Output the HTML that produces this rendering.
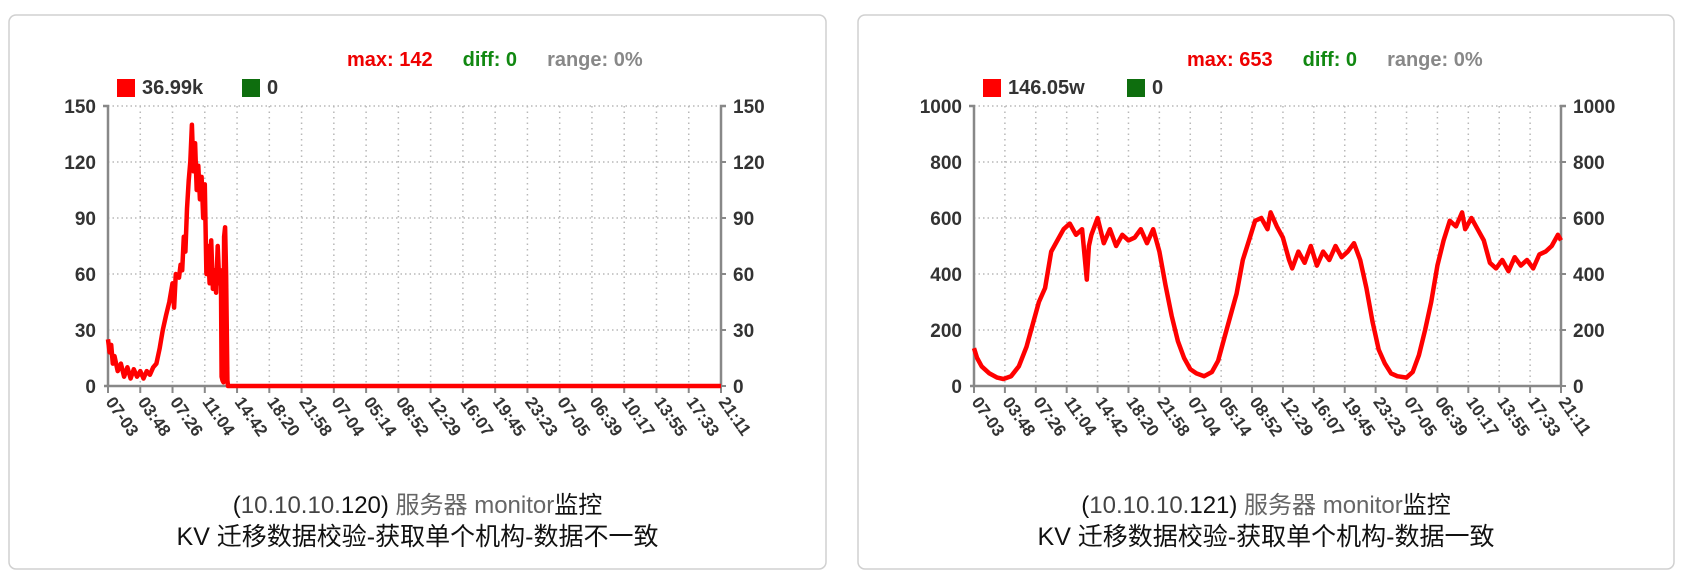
<!DOCTYPE html>
<html><head><meta charset="utf-8">
<style>
html,body{margin:0;padding:0;background:#fff;}
body{width:1696px;height:580px;overflow:hidden;font-family:"Liberation Sans","Noto Sans CJK SC",sans-serif;}
svg text{font-family:"Liberation Sans","Noto Sans CJK SC",sans-serif;}
</style></head>
<body>
<svg id="root" width="1696" height="580" viewBox="0 0 1696 580" xmlns="http://www.w3.org/2000/svg"></svg>
<script>
// ---- shared data ----
const xTickLabels = ["07-03","03:48","07:26","11:04","14:42","18:20","21:58","07-04","05:14","08:52","12:29","16:07","19:45","23:23","07-05","06:39","10:17","13:55","17:33","21:11"];

// chart 1 (tick-index positions and values)
const c1X = [0,0.05,0.1,0.15,0.2,0.3,0.4,0.5,0.6,0.7,0.8,0.9,1.0,1.1,1.2,1.3,1.4,1.5,1.6,1.65,1.7,1.8,1.9,2.0,2.05,2.1,2.2,2.25,2.3,2.35,2.4,2.45,2.5,2.55,2.6,2.65,2.7,2.75,2.8,2.85,2.9,2.95,3.0,3.05,3.1,3.15,3.2,3.25,3.3,3.35,3.4,3.45,3.5,3.52,3.55,3.58,3.6,3.63,3.66,3.7,3.72,3.75,4.0,5,6,7,8,9,10,11,12,13,14,15,16,17,18,19];
const c1Y = [25,18,22,12,16,8,12,5,10,4,9,5,8,4,8,6,10,12,20,25,30,38,45,55,42,60,58,65,62,80,72,95,110,120,140,115,130,105,118,100,112,90,108,60,75,55,78,52,62,50,75,55,62,5,3,2,80,85,60,3,0,0,0,0,0,0,0,0,0,0,0,0,0,0,0,0,0,0];
const c1Ticks = [0,30,60,90,120,150];

// chart 2
const c2X = [0,0.1,0.25,0.5,0.75,0.95,1.2,1.45,1.7,1.9,2.1,2.3,2.5,2.7,2.9,3.1,3.3,3.5,3.65,3.72,3.8,4.0,4.2,4.4,4.6,4.8,5.0,5.2,5.4,5.6,5.8,6.0,6.2,6.4,6.6,6.8,7.0,7.2,7.45,7.7,7.9,8.1,8.3,8.5,8.7,8.9,9.1,9.3,9.5,9.6,9.8,10.0,10.2,10.3,10.5,10.7,10.9,11.1,11.3,11.5,11.7,11.9,12.1,12.3,12.5,12.7,12.9,13.1,13.3,13.5,13.7,14.0,14.2,14.4,14.6,14.8,15.0,15.2,15.4,15.6,15.8,15.9,16.1,16.3,16.5,16.7,16.9,17.1,17.3,17.5,17.7,17.9,18.1,18.3,18.5,18.7,18.9,19.0];
const c2Y = [135,100,70,45,30,25,35,70,140,220,300,350,480,520,560,580,540,560,380,500,540,600,510,560,500,540,520,530,560,510,560,480,360,250,160,100,60,45,35,50,90,170,250,330,450,520,590,600,560,620,570,530,450,420,480,440,500,430,480,450,500,460,480,510,450,350,230,130,80,45,35,30,50,110,200,300,430,520,590,570,620,560,600,560,520,440,420,450,410,460,430,450,420,470,480,500,540,520];
const c2Ticks = [0,200,400,600,800,1000];

const NS = "http://www.w3.org/2000/svg";
const root = document.getElementById('root');
function el(tag, attrs, parent, text){
  const e = document.createElementNS(NS, tag);
  for (const k in attrs) e.setAttribute(k, attrs[k]);
  if (text !== undefined) e.textContent = text;
  (parent||root).appendChild(e);
  return e;
}

function drawChart(cfg){
  const g = el('g', {});
  
  
  const panel = el('rect', {x:cfg.px, y:15, width:cfg.pw, height:554, rx:7, fill:'#fff', stroke:'#d0d0d0', 'stroke-width':1.5}, g);
  
  

  const L = cfg.L, R = cfg.R, T = 106, B = 386;
  const nT = xTickLabels.length - 1;
  const xs = i => L + (R - L) * i / nT;
  const yMax = cfg.ticks[cfg.ticks.length-1];
  const ys = v => B - (B - T) * v / yMax;

  cfg.ticks.forEach(t => {
    if (t === 0) return;
    const gl = el('line', {x1:L, x2:R, y1:ys(t), y2:ys(t), stroke:'#b8b8b8', 'stroke-width':1.5, 'stroke-dasharray':'1.5,3'}, g);
    
    
  });
  xTickLabels.forEach((lab, i) => {
    if (i === 0 || i === nT) return;
    const gl = el('line', {x1:xs(i), x2:xs(i), y1:T, y2:B, stroke:'#b8b8b8', 'stroke-width':1.5, 'stroke-dasharray':'1.5,4'}, g);
    
    
  });

  const axL = el('path', {d:`M${L-5},${T} H${L} V${B}`, stroke:'#888', 'stroke-width':2.5, fill:'none'}, g);
  
  
  const axR = el('path', {d:`M${R+5},${T} H${R} V${B}`, stroke:'#888', 'stroke-width':2.5, fill:'none'}, g);
  
  
  const axB = el('line', {x1:L-4, x2:R, y1:B, y2:B, stroke:'#888', 'stroke-width':2.5}, g);
  
  

  cfg.ticks.forEach(t => {
    const tl = el('text', {x:L-12, y:ys(t)+7, 'text-anchor':'end', 'font-size':19, 'font-weight':'bold', fill:'#333'}, g, String(t));
    
    
    const tr = el('text', {x:R+12, y:ys(t)+7, 'text-anchor':'start', 'font-size':19, 'font-weight':'bold', fill:'#333'}, g, String(t));
    
    
    const tk = el('line', {x1:R, x2:R+5, y1:ys(t), y2:ys(t), stroke:'#888', 'stroke-width':2}, g);
    
    
  });

  xTickLabels.forEach((lab, i) => {
    const tk = el('line', {x1:xs(i), x2:xs(i), y1:B, y2:B+7, stroke:'#888', 'stroke-width':2}, g);
    
    
    const tx = xs(i) - 3, ty = B + 16;
    const t = el('text', {x:tx, y:ty, 'font-size':17, 'font-weight':'bold', fill:'#333', transform:`rotate(55 ${tx} ${ty})`}, g, lab);
    
    
  });

  const pts = cfg.xv.map((x, i) => `${xs(x).toFixed(1)},${ys(cfg.yv[i]).toFixed(1)}`).join(' ');
  const line = el('polyline', {points:pts, fill:'none', stroke:'#ff0000', 'stroke-width':4.5, 'stroke-linejoin':'round'}, g);
  
  

  const st = el('text', {x:cfg.sx, y:66, 'font-size':20, 'font-weight':'bold'}, g);
  
  
  el('tspan', {fill:'#ee0000'}, st, 'max: ' + cfg.max);
  el('tspan', {fill:'#118811', dx:30}, st, 'diff: 0');
  el('tspan', {fill:'#888', dx:30}, st, 'range: 0%');

  const lg = el('g', {}, g);
  
  
  const s1 = el('rect', {x:L+9, y:79, width:18, height:18, fill:'#ff0000'}, lg);
  
  
  const t1 = el('text', {x:L+34, y:94, 'font-size':20, 'font-weight':'bold', fill:'#333'}, lg, cfg.legend);
  
  
  const s2 = el('rect', {x:cfg.gx, y:79, width:18, height:18, fill:'#0e6e0e'}, lg);
  
  
  const t2 = el('text', {x:cfg.gx+25, y:94, 'font-size':20, 'font-weight':'bold', fill:'#333'}, lg, '0');
  
  

  const cx = cfg.px + cfg.pw/2;
  const h1 = el('text', {x:cx, y:513, 'text-anchor':'middle', 'font-size':24, fill:'#111'}, g);
  
  
  el('tspan', {}, h1, '(');
  el('tspan', {fill:'#444'}, h1, '10.10.10.');
  el('tspan', {}, h1, cfg.ip + ') ');
  el('tspan', {fill:'#666'}, h1, '服务器 monitor');
  el('tspan', {}, h1, '监控');
  const h2 = el('text', {x:cx, y:545, 'text-anchor':'middle', 'font-size':25, fill:'#111'}, g, cfg.title);
  
  
}

drawChart({name:'chart-inconsistent', px:9, pw:817, L:108, R:721, sx:347, gx:242, xv:c1X, yv:c1Y, ticks:c1Ticks, max:142, legend:'36.99k', ip:'120', title:'KV 迁移数据校验-获取单个机构-数据不一致'});
drawChart({name:'chart-consistent', px:858, pw:816, L:974, R:1561, sx:1187, gx:1127, xv:c2X, yv:c2Y, ticks:c2Ticks, max:653, legend:'146.05w', ip:'121', title:'KV 迁移数据校验-获取单个机构-数据一致'});
</script>
</body></html>
